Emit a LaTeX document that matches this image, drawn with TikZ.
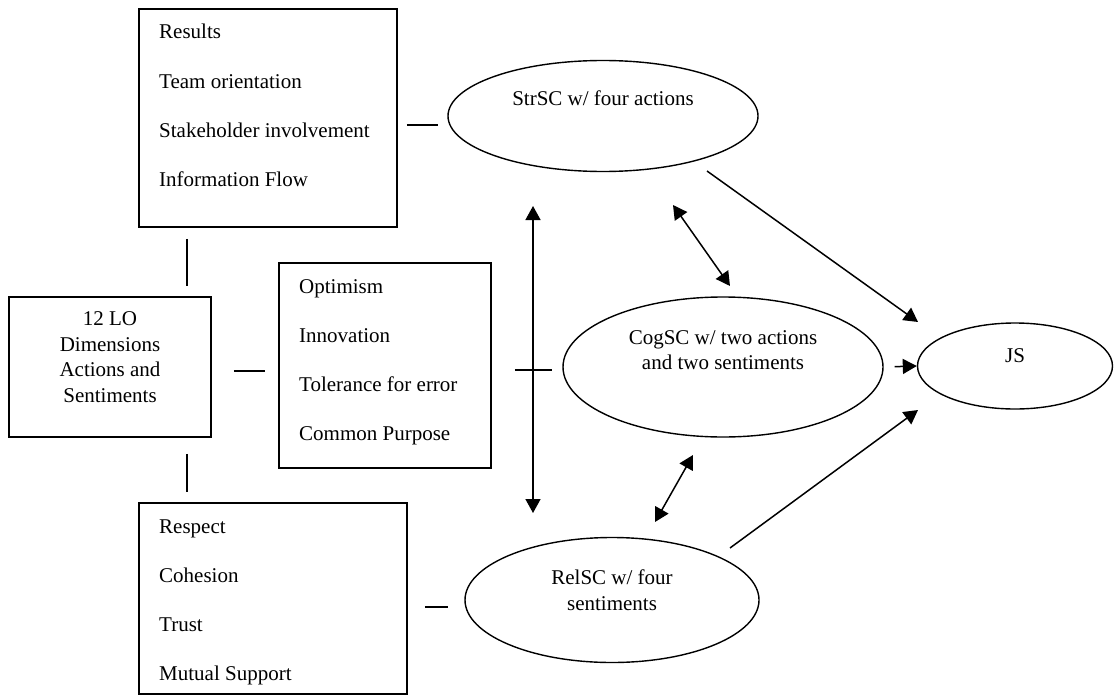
\documentclass[tikz,border=0pt]{standalone}
\usepackage{fontspec}
\setmainfont{Liberation Serif}
\usetikzlibrary{arrows.meta, positioning, shapes.geometric}
\tikzset{
    box/.style={draw, line width=1.6pt, rectangle, inner sep=0pt},
    oval/.style={draw, line width=1.4pt, ellipse, inner sep=0pt},
    entry/.style={anchor=base west, inner sep=0pt},
    link/.style={line width=1.6pt},
    effect/.style={-{Triangle[length=14pt, width=15pt]}, line width=1.5pt},
    mutual/.style={{Triangle[length=14pt, width=15pt]}-{Triangle[length=14pt, width=15pt]}, line width=1.5pt}
}

\begin{document}
\begin{tikzpicture}[x=1pt, y=-1pt, font=\fontsize{21}{25.5}\selectfont]
    \useasboundingbox (0,0) rectangle (1118,698);
    % Dimension boxes
    \node[box, minimum width=258pt, minimum height=218pt] (strlist) at (268,118) {};
    \node[box, minimum width=202pt, minimum height=140pt] (lo) at (110,367) {};
    \node[box, minimum width=212pt, minimum height=205pt] (coglist) at (385,365.5) {};
    \node[box, minimum width=268pt, minimum height=191pt] (rellist) at (273,598.5) {};
    \node[align=center] at (110,357) {12 LO\\Dimensions\\Actions and\\Sentiments};
    \foreach \t [count=\i] in {Results, Team orientation, Stakeholder involvement, Information Flow}
        \node[entry] at (159,{39+49.3*(\i-1)}) {\t};
    \foreach \t [count=\i] in {Optimism, Innovation, Tolerance for error, Common Purpose}
        \node[entry] at (299,{293+49.3*(\i-1)}) {\t};
    \foreach \t [count=\i] in {Respect, Cohesion, Trust, Mutual Support}
        \node[entry] at (159,{533+49*(\i-1)}) {\t};
    % Social capital ovals
    \node[oval, minimum width=310pt, minimum height=111pt] (str) at (603,116) {};
    \node[oval, minimum width=320pt, minimum height=140pt] (cog) at (723,367) {};
    \node[oval, minimum width=294pt, minimum height=125pt] (rel) at (612,600) {};
    \node[oval, minimum width=195pt, minimum height=86pt] (js) at (1015,366) {};
    \node at ([yshift=18pt]str.center) {StrSC w/ four actions};
    \node[align=center] at ([yshift=17pt]cog.center) {CogSC w/ two actions\\and two sentiments};
    \node[align=center] at ([yshift=10pt]rel.center) {RelSC w/ four\\sentiments};
    \node at ([yshift=10pt]js.center) {JS};
    % Short links between boxes and ovals
    \coordinate (spine) at (187,0);
    \draw[link, shorten <=9pt, shorten >=9pt] ([yshift=-7pt]strlist.east) -- ([yshift=-7pt]strlist.east -| str.west);
    \draw[link, shorten <=11pt, shorten >=10pt] (strlist.south -| spine) -- (lo.north -| spine);
    \draw[link, shorten <=16pt, shorten >=10pt] (lo.south -| spine) -- (rellist.north -| spine);
    \draw[link, shorten <=22pt, shorten >=13pt] ([yshift=-4pt]lo.east) -- ([yshift=-4pt]lo.east -| coglist.west);
    \draw[link, shorten <=23pt, shorten >=10pt] ([yshift=-4.5pt]coglist.east) -- ([yshift=-4.5pt]coglist.east -| cog.west);
    \draw[link, shorten <=17pt, shorten >=16pt] ([yshift=-8.5pt]rellist.east) -- ([yshift=-8.5pt]rellist.east -| rel.west);
    % Arrows
    \coordinate (vtop) at (533,206);
    \coordinate (vbot) at (533,513);
    \coordinate (sctop) at (673,205);
    \coordinate (scbot) at (730,286);
    \coordinate (crtop) at (693,455);
    \coordinate (crbot) at (655,522);
    \coordinate (sjfrom) at (707,171);
    \coordinate (sjto) at (918,322);
    \coordinate (rjfrom) at (730,548);
    \coordinate (rjto) at (918,410);
    \draw[mutual] (vtop) -- (vbot);
    \draw[mutual] (sctop) -- (scbot);
    \draw[mutual] (crtop) -- (crbot);
    \draw[effect] (sjfrom) -- (sjto);
    \draw[effect] (rjfrom) -- (rjto);
    \draw[effect, shorten <=11pt] (cog.east) -- (js.west);
\end{tikzpicture}
\end{document}
